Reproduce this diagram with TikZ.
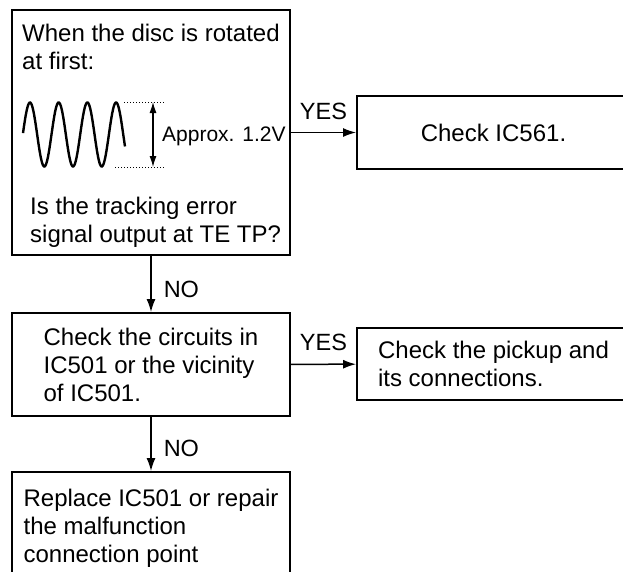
\documentclass[tikz,border=0pt]{standalone}
\usepackage{fontspec}
\setmainfont{Liberation Sans}
\usetikzlibrary{arrows.meta}

\begin{document}
\begin{tikzpicture}[x=1pt, y=-1pt]

\tikzset{
  box/.style={draw, line width=1.9pt, inner sep=0, align=left, font=\fontsize{24}{28}\selectfont},
  flow/.style={-{Latex[length=13pt, width=9pt]}, line width=1.5pt},
  tag/.style={inner sep=0, font=\fontsize{23.5}{28}\selectfont}
}

\useasboundingbox (0,0) rectangle (623,571);

\node [box, minimum width=278pt, minimum height=245pt] (first) at (151,132.5) {};
\node [box, minimum width=273pt, minimum height=73pt] (ic561) at (493.5,132.5) {Check IC561.};
\node [box, minimum width=278pt, minimum height=103pt] (circuits) at (151,364.5) {Check the circuits in\\IC501 or the vicinity\\of IC501.};
\node [box, minimum width=273pt, minimum height=72pt] (pickup) at (493.5,364) {Check the pickup and\\its connections.};
\node [box, minimum width=278pt, minimum height=112pt] (replace) at (151,528) {Replace IC501 or repair\\the malfunction\\connection point};

\node [tag, anchor=north west, align=left, font=\fontsize{24}{28}\selectfont] (when) at (22,23.5) {When the disc is rotated\\at first:};
\node [tag, anchor=north west, align=left, font=\fontsize{24}{28}\selectfont] (question) at (30,196.5) {Is the tracking error\\signal output at TE TP?};

\draw [line width=2.4pt] plot [domain=23:125, samples=160, smooth] (\x, {134.5 - 32*sin(360/28.7*(\x-22.8))});

\coordinate (wtop) at (124,102);
\coordinate (wtopend) at (165,102);
\coordinate (wbot) at (115,167);
\coordinate (wbotend) at (165,167);
\coordinate (ptop) at (153,102);
\coordinate (pbot) at (153,167);

\draw [line width=1pt, dash pattern=on 1pt off 2pt] (wtop) -- (wtopend);
\draw [line width=1pt, dash pattern=on 1pt off 2pt] (wbot) -- (wbotend);
\draw [{Latex[length=11pt, width=7pt]}-{Latex[length=11pt, width=7pt]}, line width=1.2pt] (ptop) -- (pbot);

\node [anchor=base west, inner sep=0, font=\fontsize{21}{24}\selectfont] (amp) at (162,141) {Approx. 1.2V};

\draw [flow] (first) -- node [tag, above=12.5pt] (yes1) {YES} (ic561);
\draw [flow] (circuits) -- node [tag, above=13pt] (yes2) {YES} (pickup);
\draw [flow] (first) -- node [tag, right=12pt, pos=0.59] (no1) {NO} (circuits);
\draw [flow] (circuits) -- node [tag, right=12pt, pos=0.59] (no2) {NO} (replace);

\end{tikzpicture}
\end{document}
